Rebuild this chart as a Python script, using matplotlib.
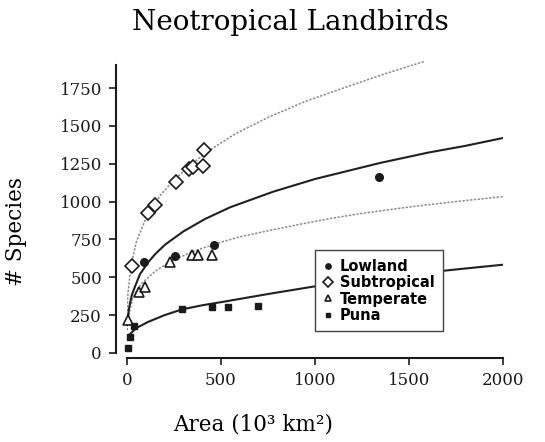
import matplotlib
matplotlib.use("Agg")
import matplotlib.pyplot as plt

# observed points (area in 10^3 km2, number of species)
lowland_x = [90, 255, 465, 1340]
lowland_y = [603, 640, 712, 1162]
subtrop_x = [25, 112, 149, 261, 330, 350, 404, 410]
subtrop_y = [575, 922, 980, 1132, 1215, 1228, 1235, 1338]
temperate_x = [5, 64, 96, 229, 345, 378, 452]
temperate_y = [215, 404, 437, 600, 645, 645, 649]
puna_x = [5, 16, 37, 293, 452, 537, 697]
puna_y = [30, 104, 180, 288, 305, 305, 310]

# fitted curves
fit_sub_x = [0, 2, 5, 21, 50, 112, 180, 255, 415, 580, 761, 950, 1186, 1380, 1585]
fit_sub_y = [150, 300, 390, 575, 735, 925, 1045, 1150, 1320, 1450, 1562, 1662, 1765, 1847, 1927]
fit_low_x = [3, 10, 25, 43, 69, 112, 150, 202, 300, 415, 550, 777, 1000, 1346, 1600, 1800, 2000]
fit_low_y = [200, 290, 380, 440, 520, 598, 653, 715, 803, 885, 963, 1065, 1149, 1255, 1323, 1368, 1420]
fit_temp_x = [0, 5, 30, 59, 96, 150, 229, 350, 468, 600, 761, 900, 1080, 1250, 1500, 1750, 2000]
fit_temp_y = [150, 225, 360, 430, 480, 540, 603, 670, 720, 767, 810, 845, 888, 922, 964, 1000, 1033]
fit_puna_x = [5, 16, 50, 112, 200, 293, 400, 521, 650, 777, 984, 1200, 1400, 1600, 1800, 2000]
fit_puna_y = [115, 125, 165, 205, 250, 288, 315, 340, 368, 395, 437, 472, 505, 532, 558, 583]

x_ticks = [0, 500, 1000, 1500, 2000]
y_ticks = [0, 250, 500, 750, 1000, 1250, 1500, 1750]

plt.rcParams["font.family"] = "DejaVu Serif"

fig = plt.figure(figsize=(5.45, 4.42), dpi=100)
ax = fig.add_axes([0.233, 0.2014, 0.690, 0.668])

dot_style = (0, (1.5, 1))
ax.plot(fit_sub_x, fit_sub_y, color="#8a8a8a", linestyle=dot_style, linewidth=1.1)
ax.plot(fit_temp_x, fit_temp_y, color="#8a8a8a", linestyle=dot_style, linewidth=1.1)
ax.plot(fit_low_x, fit_low_y, color="#202020", linewidth=1.5)
ax.plot(fit_puna_x, fit_puna_y, color="#202020", linewidth=1.5)

ax.plot(lowland_x, lowland_y, "o", color="#1a1a1a", markersize=5.5,
        linestyle="none", label="Lowland", clip_on=False)
ax.plot(subtrop_x, subtrop_y, "D", markerfacecolor="white", markeredgecolor="#1a1a1a",
        markeredgewidth=1.2, markersize=7, linestyle="none", label="Subtropical", clip_on=False)
ax.plot(temperate_x, temperate_y, "^", markerfacecolor="white", markeredgecolor="#1a1a1a",
        markeredgewidth=1.2, markersize=7, linestyle="none", label="Temperate", clip_on=False)
ax.plot(puna_x, puna_y, "s", color="#1a1a1a", markersize=5,
        linestyle="none", label="Puna", clip_on=False)

ax.set_xlim(0, 2000)
ax.set_ylim(0, 1950)
ax.set_xticks(x_ticks)
ax.set_yticks(y_ticks)

ax.spines["top"].set_visible(False)
ax.spines["right"].set_visible(False)
ax.spines["left"].set_position(("outward", 8))
ax.spines["bottom"].set_position(("outward", 3.5))
ax.spines["left"].set_bounds(0, 1900)
ax.spines["bottom"].set_bounds(0, 2000)
for s in ["left", "bottom"]:
    ax.spines[s].set_linewidth(1.5)
    ax.spines[s].set_color("#1a1a1a")

ax.tick_params(direction="out", length=5, width=1.2, labelsize=12, pad=5, colors="#1a1a1a")

ax.set_xlabel("Area (10³ km²)", fontsize=15.5)
ax.xaxis.set_label_coords(0.335, -0.205)
ax.set_ylabel("# Species", fontsize=15.5)
ax.yaxis.set_label_coords(-0.265, 0.41)

leg = ax.legend(loc="upper left", bbox_to_anchor=(0.48, 0.372), frameon=True,
                fancybox=False, edgecolor="#444444", framealpha=1,
                prop={"family": "DejaVu Sans", "weight": "bold", "size": 10.5},
                handlelength=0.6, handletextpad=0.5, labelspacing=0.08,
                borderpad=0.6, markerscale=0.7)
leg.get_frame().set_linewidth(1.0)

fig.text(290 / 545, 1 - 22 / 442, "Neotropical Landbirds", ha="center", va="center",
         fontsize=20)

plt.savefig("out.png", dpi=100)
